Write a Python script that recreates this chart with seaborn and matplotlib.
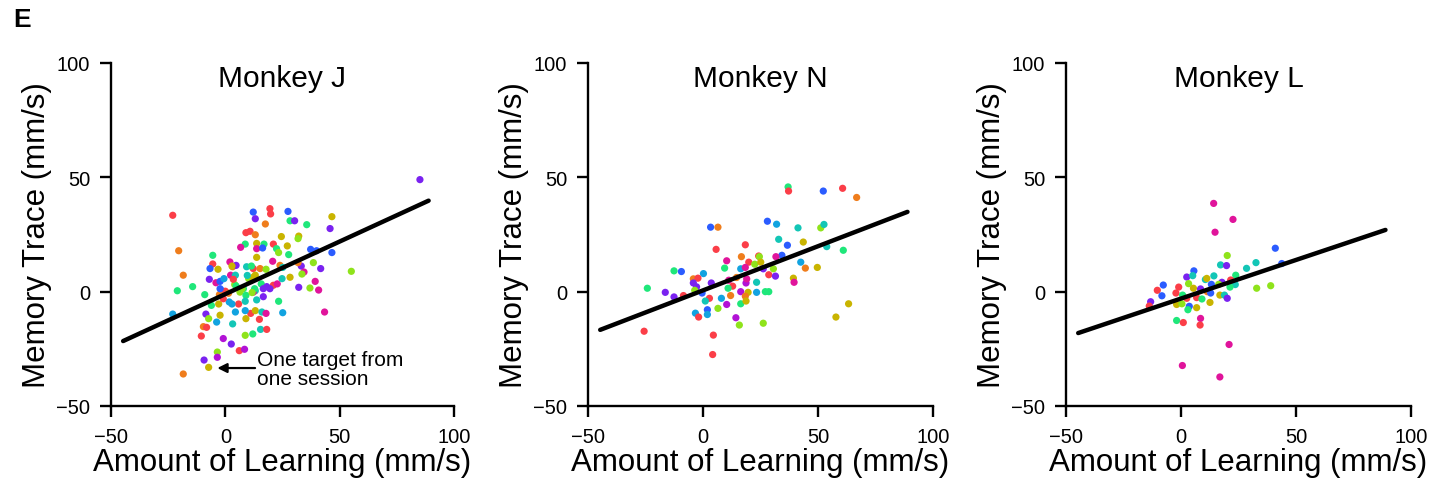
import matplotlib
matplotlib.use("Agg")
import matplotlib.pyplot as plt
import seaborn as sns
import pandas as pd

# ---------------- data ----------------
titles = ["Monkey J", "Monkey N", "Monkey L"]
xticks = [-50, 0, 50, 100]
yticks = [-50, 0, 50, 100]

j_x = [-23.0, -20.4, -18.4, -21.0, -14.3, -23.0, 12.2, 13.1, 19.5, 19.8,
       27.4, 28.3, 30.3, 17.5, 35.6, 46.6, 45.8, 9.0, 10.8, 13.1,
       13.7, 16.9, 21.0, 24.5, 32.1, 31.8, 8.7, 6.7, 13.7, 16.3,
       22.4, 27.1, 23.3, 27.7, 37.3, 39.9, 46.6, 13.7, 20.7, -5.5,
       -5.5, -3.2, -6.7, 2.0, 3.2, 4.7, 9.3, 12.2, 15.2, 17.8,
       23.9, 25.1, 33.2, 34.4, 38.5, 41.7, 55.1, 33.5, 31.8, -7.0,
       -4.1, 2.3, 4.4, 4.1, 7.9, 10.2, 12.2, 13.1, 15.7, 18.1,
       16.6, 13.1, 21.0, 22.7, 24.8, 28.3, 32.1, 37.0, 39.3, 40.8,
       43.4, -1.5, 0.0, 1.4, 6.4, 9.0, 12.2, 13.7, 19.5, 23.3,
       25.1, -9.0, -2.6, -6.1, -2.9, -8.5, -7.3, -3.8, 1.7, 5.8,
       8.7, 4.4, 3.2, 9.0, 11.1, 13.1, 16.0, 17.8, 14.9, 15.4,
       18.1, 8.7, 12.0, -10.5, -9.6, -8.2, -0.9, 2.6, 6.1, 8.4,
       -3.5, -3.5, -9.3, -7.3, -18.4, -2.3, -0.6, 3.5, 85.1,
       -2.3, 12.8, 2.9, 11.4, 9.6, 16.6, 2.9, -2.3, -0.9, 4.7, 7.3, 8.7, 11.7]
j_y = [33.4, 17.9, 7.2, 0.4, 2.2, -9.8, 34.8, 31.9, 36.3, 34.0,
       35.1, 31.0, 31.0, 29.6, 29.3, 32.8, 27.6, 25.8, 26.4, 24.9,
       21.1, 20.8, 20.8, 24.1, 24.3, 23.2, 20.8, 19.4, 18.8, 19.1,
       18.8, 20.0, 17.1, 16.2, 18.5, 17.9, 17.1, 15.0, 13.3, 15.9,
       12.1, 9.8, 10.1, 13.0, 10.9, 11.5, 10.9, 10.1, 10.1, 9.8,
       11.5, 10.6, 11.2, 8.6, 12.7, 10.1, 8.9, 7.7, 12.7, 5.4,
       3.9, 7.2, 7.2, 3.1, 1.3, 5.7, 6.3, 7.2, 3.4, 2.2,
       -2.2, 0.4, 2.8, 3.4, 5.7, 6.3, 1.9, 1.6, 4.5, 0.7,
       -8.9, 0.4, 0.2, -0.7, -0.2, -1.6, -0.2, -3.6, 1.3, -4.2,
       -9.2, -1.3, -1.3, -6.0, -5.4, -9.8, -11.8, -13.3, -4.5, -5.4,
       -4.2, -8.9, -14.1, -11.8, -9.5, -8.3, -8.9, -9.5, -12.1, -16.5,
       -16.5, -19.1, -18.5, -19.4, -15.3, -15.6, -20.5, -22.9, -25.8, -25.2,
       -26.4, -28.7, -29.9, -33.1, -36.0, 4.5, 5.7, 5.4, 49.0,
       -10.3, 1.3, 11.2, 11.2, 7.1, 1.3, -5.4, 1.3, -3.1, 2.5, 1.3, -8.3, -0.4]
j_c = list("rooggsbvrr") + \
      list("bgvogyvrro") + list("ygryylgmmb") + list("gylgbbbymg") + \
      list("rybmovtrol") + list("otvmlvllov") + \
      list("mmtlglyygv") + list("vtrmtyvlmm") + list("mbrolgmtvg") + \
      list("sgogyvlssr") + list("tstyrytmrt") + list("rlgrorpvrp") + \
      list("lpvyobsrv") + list("ygygtvsbrglsl")

n_x = [37.0, 37.2, 52.3, 60.7, 66.8, 3.3, 6.5, 28.0, 32.0, 41.3,
       51.2, 52.6, 32.9, 43.6, 36.7, 5.7, 18.4, 34.3, 53.8, 61.0,
       16.7, 24.2, 24.5, 31.7, 10.3, 19.9, 22.5, 25.1, 42.5, 44.5,
       49.7, 9.4, 16.4, 18.4, -12.6, -9.4, 0.2, 26.2, 30.6, 28.6,
       31.5, 39.3, 39.6, -4.2, -2.2, -4.2, 3.6, 11.2, 12.9, 14.6,
       18.7, 19.0, 23.3, -2.8, -3.6, -0.4, 10.9, -24.2, -16.4, -12.6,
       -8.5, 2.8, 8.0, 12.0, 16.4, 19.6, 18.4, 23.3, 27.1, 28.6,
       1.0, 6.5, 10.3, 16.4, 18.7, 1.9, -3.3, 1.9, -1.9, 14.3,
       15.8, 26.2, 63.3, 57.8, -25.6, 4.5, 4.2]
n_y = [45.8, 44.0, 44.0, 45.2, 41.2, 28.2, 28.2, 30.8, 29.5, 27.9,
       27.9, 29.4, 22.9, 21.7, 20.3, 18.5, 20.5, 15.9, 19.7, 18.1,
       15.3, 15.6, 15.3, 15.3, 13.5, 12.9, 12.0, 12.9, 12.9, 10.3,
       10.6, 10.3, 10.0, 10.6, 9.1, 8.8, 7.9, 10.0, 10.0, 7.4,
       6.8, 5.9, 4.1, 5.6, 5.9, 3.8, 3.8, 5.0, 2.4, 6.2,
       3.8, 5.6, 4.1, 2.1, 0.6, -0.6, 1.5, 1.5, -0.3, -2.3,
       -1.7, -2.9, -2.9, -1.7, 0.0, -0.3, -2.0, -0.3, 0.0, 0.0,
       -4.1, -7.3, -5.6, -5.3, -4.1, -7.9, -9.4, -10.0, -11.1, -11.4,
       -14.6, -13.8, -5.3, -11.1, -17.3, -19.0, -27.5]
n_c = list("grbrobobst") + list("lttybrrbtg") + \
      list("orlmmrlyso") + list("ygsmgbsvlr") + list("vymorvvmro") + \
      list("pmtvlbggvv") + list("rrsopyosgg") + list("tlpgybssrp") + \
      list("llyyrrr")

l_x = [14.2, 22.6, 14.8, 41.0, 43.8, 20.1, 17.2, 19.8, 28.5, 32.6,
       5.6, 2.5, 5.1, 14.3, 10.6, 11.2, 23.8, 21.6, 17.8, 23.6,
       21.3, 16.4, 13.2, 32.9, 39.0, 3.3, 5.4, -1.0, -7.7, -10.3,
       -8.3, -13.2, -13.8, -2.2, 0.7, 2.5, 6.8, 8.5, 11.4, 12.9,
       9.1, -1.9, 0.4, 3.6, 3.0, 6.8, 12.6, 16.9, 18.9, 20.1,
       -1.9, 1.0, 8.5, 8.3, 20.9, 0.6, 16.9]
l_y = [38.6, 31.6, 26.0, 19.0, 12.3, 15.8, 11.7, 11.4, 10.2, 12.7,
       9.1, 6.4, 7.0, 6.9, 5.3, 5.8, 7.2, 5.1, 4.1, 3.1,
       2.0, 3.2, 3.2, 1.5, 2.6, 3.5, 1.5, 2.0, 2.9, 0.6,
       -1.8, -4.4, -6.3, -0.6, -1.5, -2.9, -2.6, 1.2, 0.0, -0.6,
       -3.2, -5.6, -5.3, -6.4, -7.9, -7.0, -4.7, -1.5, -1.5, -2.9,
       -12.6, -13.5, -11.7, -14.6, -23.1, -32.3, -37.3]
l_c = list("mmmbbltvtt") + list("bvtttygrvt") + list("glblllyrbr") + \
      list("bvrrgrrvob") + list("gylbgyyytv") + list("grmrmmm")

# regression lines (end points)
fit_x = [-44.7, 88.9]
fit_j = [-21.6, 39.8]
fit_n = [-16.7, 34.9]
fit_l = [-18.1, 27.0]

palette = {"r": "#fb3e48", "o": "#ef7d1c", "y": "#c9b400", "l": "#8fe31b",
           "g": "#1fe77a", "t": "#13c6b6", "s": "#12a3e0", "b": "#2b5cff",
           "v": "#7a22f0", "p": "#b212d6", "m": "#e0149b"}

# ---------------- plot ----------------
sns.set_theme(style="ticks")
plt.rcParams["font.family"] = ["Liberation Sans", "DejaVu Sans"]
plt.rcParams["axes.linewidth"] = 1.7
for key in ["text.color", "axes.labelcolor", "xtick.color", "ytick.color",
            "axes.edgecolor"]:
    plt.rcParams[key] = "black"

fig = plt.figure(figsize=(14.47, 4.89), dpi=100)
lefts = [111 / 1447, 588 / 1447, 1066 / 1447]
widths = [343 / 1447, 345 / 1447, 345 / 1447]
bottom, height = 82 / 489, 343 / 489

panels = [(j_x, j_y, j_c, fit_j), (n_x, n_y, n_c, fit_n), (l_x, l_y, l_c, fit_l)]
for i, (px, py, pc, fy) in enumerate(panels):
    ax = fig.add_axes([lefts[i], bottom, widths[i], height])
    df = pd.DataFrame({"x": px, "y": py, "c": pc})
    sns.scatterplot(data=df, x="x", y="y", hue="c", palette=palette, s=27,
                    linewidth=0, legend=False, ax=ax, zorder=2)
    sns.lineplot(x=fit_x, y=fy, color="black", linewidth=3.2, ax=ax, zorder=3)
    ax.set_xlim(-50, 100)
    ax.set_ylim(-50, 100)
    ax.set_xticks(xticks)
    ax.set_yticks(yticks)
    ax.set_xticklabels([f"\u2212{abs(t)}" if t < 0 else str(t) for t in xticks])
    ax.set_yticklabels([f"\u2212{abs(t)}" if t < 0 else str(t) for t in yticks])
    ax.tick_params(direction="out", length=8, width=1.7, labelsize=14.5, pad=7)
    sns.despine(ax=ax)
    ax.set_xlabel("Amount of Learning (mm/s)", fontsize=22.5, labelpad=1)
    ax.set_ylabel("Memory Trace (mm/s)", fontsize=22.5, labelpad=3)
    ax.text(0.5, 0.955, titles[i], transform=ax.transAxes, ha="center",
            va="center", fontsize=21.5)
    if i == 0:
        ax.annotate("", xy=(-3.5, -33.4), xytext=(13.0, -33.4),
                    arrowprops=dict(arrowstyle="-|>", color="black", lw=1.6,
                                    mutation_scale=14, shrinkA=0, shrinkB=0))
        ax.text(14.0, -33.9, "One target from\none session", fontsize=15,
                ha="left", va="center", linespacing=1.0)

fig.text(22 / 1447, 1 - 20 / 489, "E", fontsize=19, fontweight="bold",
         ha="center", va="center")

fig.savefig("out.png", dpi=100)
